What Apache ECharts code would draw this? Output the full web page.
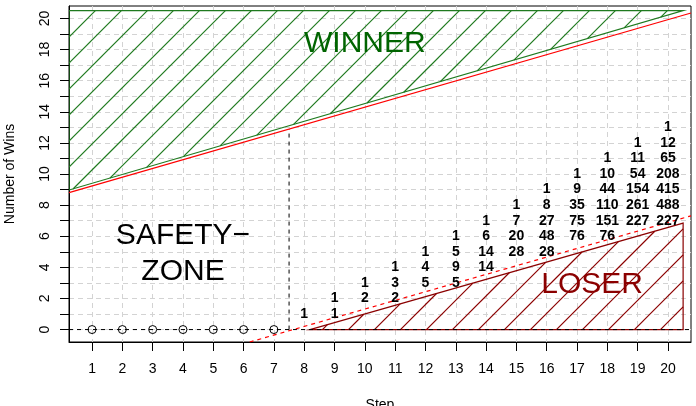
<!DOCTYPE html>
<html>
<head>
<meta charset="utf-8">
<script src="https://cdn.jsdelivr.net/npm/echarts@6/dist/echarts.min.js"></script>
<style>
  html, body { margin: 0; padding: 0; background: #fff; }
  #chart { width: 696px; height: 406px; }
</style>
</head>
<body>
<div id="chart"></div>
<script>
// axis ticks
const steps = [1, 2, 3, 4, 5, 6, 7, 8, 9, 10, 11, 12, 13, 14, 15, 16, 17, 18, 19, 20];
const winTicks = [0, 1, 2, 3, 4, 5, 6, 7, 8, 9, 10, 11, 12, 13, 14, 15, 16, 17, 18, 19, 20];
const winLabels = [0, 2, 4, 6, 8, 10, 12, 14, 16, 18, 20];

// steps inside the safety zone (zero wins)
const safetySteps = [1, 2, 3, 4, 5, 6, 7];

// path counts per step, listed bottom-up starting at countBase wins
const countSteps = [8, 9, 10, 11, 12, 13, 14, 15, 16, 17, 18, 19, 20];
const countBase = [1, 1, 2, 2, 3, 3, 4, 5, 5, 6, 6, 7, 7];
const countValues = [
  [1],
  [1, 1],
  [2, 1],
  [2, 3, 1],
  [5, 4, 1],
  [5, 9, 5, 1],
  [14, 14, 6, 1],
  [28, 20, 7, 1],
  [28, 48, 27, 8, 1],
  [76, 75, 35, 9, 1],
  [76, 151, 110, 44, 10, 1],
  [227, 261, 154, 54, 11, 1],
  [227, 488, 415, 208, 65, 12, 1]
];

// boundaries (step, wins)
const upperLine = [[0.24, 8.8], [20.76, 20.35]];
const lowerLine = [[6.2, -0.8], [20.76, 7.31]];
const winnerZone = [[0.24, 8.97], [20.5, 20.5], [0.24, 20.5]];
const loserZone = [[8.19, 0], [20.5, 6.84], [20.5, 0]];
const safetyCut = [[7.5, 0], [7.5, 12.9]];
const zeroLine = [[0.24, 0], [20.76, 0]];

// R style 4% padding around 1..20 and 0..20
const xMin = 1 - 0.04 * 19, xMax = 20 + 0.04 * 19;
const yMin = -0.8, yMax = 20.8;

const FONT = "'Liberation Sans', Arial, sans-serif";
const GREEN = "#1f7a1f";
const DARKRED = "#8b0000";
const HATCH_GAP = 26; // px between hatch lines, 45 degrees

// hatch segments x+y=k clipped to a convex polygon (pixel coords)
function hatchLines(pts, color) {
  const sums = pts.map((p) => p[0] + p[1]);
  const lo = Math.min(...sums), hi = Math.max(...sums);
  let k = Math.ceil((lo - 2) / HATCH_GAP) * HATCH_GAP + 2;
  const out = [];
  for (; k <= hi; k += HATCH_GAP) {
    const hits = [];
    for (let i = 0; i < pts.length; i++) {
      const a = pts[i], b = pts[(i + 1) % pts.length];
      const fa = a[0] + a[1] - k, fb = b[0] + b[1] - k;
      if (fa === fb) continue;
      if (fa * fb <= 0) {
        const t = fa / (fa - fb);
        hits.push([a[0] + t * (b[0] - a[0]), a[1] + t * (b[1] - a[1])]);
      }
    }
    if (hits.length < 2) continue;
    hits.sort((p, q) => p[0] - q[0]);
    out.push({
      type: "polyline",
      shape: { points: [hits[0], hits[hits.length - 1]] },
      style: { fill: null, stroke: color, lineWidth: 1.2 },
    });
  }
  return out;
}

function zone(points, color) {
  return {
    type: "custom",
    coordinateSystem: "cartesian2d",
    data: points,
    clip: true,
    silent: true,
    z: 2,
    renderItem: (params, api) => {
      if (params.dataIndex !== 0) return null;
      const pts = points.map((p) => api.coord(p));
      return {
        type: "group",
        children: hatchLines(pts, color).concat([
          {
            type: "polygon",
            shape: { points: pts },
            style: { fill: null, stroke: color, lineWidth: 1.2 },
          },
        ]),
      };
    },
  };
}

function line(points, color, type, width) {
  return {
    type: "line",
    data: points,
    symbol: "none",
    silent: true,
    z: 3,
    lineStyle: { color: color, type: type, width: width || 1 },
  };
}

const countData = [];
countSteps.forEach((s, i) => {
  countValues[i].forEach((v, j) => {
    countData.push([s, countBase[i] + j, v]);
  });
});

const chart = echarts.init(document.getElementById("chart"));

const option = {
  animation: false,
  backgroundColor: "#fff",
  textStyle: { fontFamily: FONT },
  grid: {
    left: 69,
    right: 5,
    top: 6,
    bottom: 64,
    show: true,
    borderColor: "#000",
    borderWidth: 1,
    containLabel: false,
    outerBoundsMode: "none",
  },
  xAxis: {
    type: "value",
    min: xMin,
    max: xMax,
    name: "Step",
    nameLocation: "middle",
    nameGap: 56,
    nameTextStyle: { fontSize: 14, color: "#000", fontFamily: FONT },
    axisLine: { show: true, onZero: false, lineStyle: { color: "#000" } },
    axisTick: { show: true, customValues: steps, length: 9, lineStyle: { color: "#000" } },
    axisLabel: { customValues: steps, fontSize: 14, color: "#000", margin: 20, fontFamily: FONT },
    splitLine: { show: true, lineStyle: { color: "#d3d3d3", type: [5, 4] } },
  },
  yAxis: {
    type: "value",
    min: yMin,
    max: yMax,
    name: "Number of Wins",
    nameLocation: "middle",
    nameGap: 52,
    nameTextStyle: { fontSize: 14, color: "#000", fontFamily: FONT },
    axisLine: { show: true, onZero: false, lineStyle: { color: "#000" } },
    axisTick: { show: true, customValues: winTicks, length: 9, lineStyle: { color: "#000" } },
    axisLabel: { customValues: winLabels, rotate: 90, fontSize: 14, color: "#000", margin: 17, fontFamily: FONT },
    splitLine: { show: true, lineStyle: { color: "#d3d3d3", type: [5, 4] } },
  },
  series: [
    zone(winnerZone, GREEN),
    zone(loserZone, DARKRED),
    line(zeroLine, "#000", [4, 4]),
    line(safetyCut, "#000", [4, 4]),
    line(upperLine, "#ff0000", "solid", 1.2),
    line(lowerLine, "#ff0000", [4, 4], 1.2),
    {
      type: "scatter",
      data: safetySteps.map((s) => [s, 0]),
      symbol: "circle",
      symbolSize: 8,
      silent: true,
      z: 4,
      itemStyle: { color: "rgba(0,0,0,0)", borderColor: "#000", borderWidth: 1, opacity: 1 },
    },
    {
      type: "scatter",
      data: countData,
      symbolSize: 1,
      silent: true,
      z: 5,
      itemStyle: { color: "rgba(0,0,0,0)", opacity: 1 },
      label: {
        show: true,
        position: "inside",
        formatter: (p) => p.value[2],
        fontSize: 14,
        fontWeight: "bold",
        color: "#000",
        textBorderWidth: 0,
        fontFamily: FONT,
      },
    },
    {
      type: "scatter",
      symbolSize: 1,
      silent: true,
      z: 5,
      itemStyle: { color: "rgba(0,0,0,0)", opacity: 1 },
      label: { show: true, position: "inside", fontSize: 30, fontFamily: FONT, lineHeight: 36, textBorderWidth: 0 },
      data: [
        { value: [10, 18.4], label: { formatter: "WINNER", color: "#006400" } },
        { value: [17.5, 2.9], label: { formatter: "LOSER", color: "#8b0000" } },
        { value: [4, 4.9], label: { formatter: "SAFETY\u2212\nZONE", color: "#000" } },
      ],
    },
  ],
};

chart.setOption(option);
</script>
</body>
</html>
